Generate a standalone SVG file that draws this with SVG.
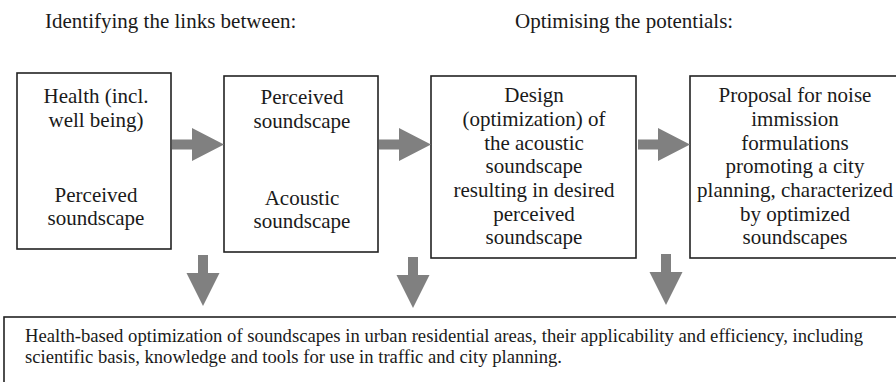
<svg xmlns="http://www.w3.org/2000/svg" width="896" height="382" viewBox="0 0 896 382">
  <style>
    .box { fill: #fff; stroke: #222; stroke-width: 1.6; }
    .t { font-family: 'Liberation Serif', 'DejaVu Serif', serif; font-size: 21px; fill: #1a1a1a; }
    .c { text-anchor: middle; }
    .b { font-family: 'Liberation Serif', 'DejaVu Serif', serif; font-size: 18px; fill: #1a1a1a; }
    .arrow { fill: #808080; }
  </style>
  <defs>
    <!-- block arrow pointing right, tip at origin -->
    <polygon id="arrow-right" class="arrow" points="-52,-5 -32,-5 -32,-16.5 0,0 -32,16.5 -32,5 -52,5"/>
    <!-- block arrow pointing down, tip at origin -->
    <polygon id="arrow-down" class="arrow" points="-5,-51 5,-51 5,-33 16.5,-33 0,0 -16.5,-33 -5,-33"/>
  </defs>
  <rect width="896" height="382" fill="#fff"/>

  <g id="headings">
    <text class="t" x="45" y="28">Identifying the links between:</text>
    <text class="t" x="515" y="28">Optimising the potentials:</text>
  </g>

  <g id="node-health">
    <rect class="box" x="17" y="73" width="154" height="176"/>
    <text class="t c" x="96" y="103">Health (incl.</text>
    <text class="t c" x="96" y="127">well being)</text>
    <text class="t c" x="96" y="202">Perceived</text>
    <text class="t c" x="96" y="225">soundscape</text>
  </g>

  <g id="node-soundscape">
    <rect class="box" x="224" y="76" width="154" height="176"/>
    <text class="t c" x="302" y="104">Perceived</text>
    <text class="t c" x="302" y="128">soundscape</text>
    <text class="t c" x="302" y="205">Acoustic</text>
    <text class="t c" x="302" y="228">soundscape</text>
  </g>

  <g id="node-design">
    <rect class="box" x="431" y="76" width="205" height="182"/>
    <text class="t c" x="534" y="102">Design</text>
    <text class="t c" x="534" y="126">(optimization) of</text>
    <text class="t c" x="534" y="150">the acoustic</text>
    <text class="t c" x="534" y="173">soundscape</text>
    <text class="t c" x="534" y="197">resulting in desired</text>
    <text class="t c" x="534" y="221">perceived</text>
    <text class="t c" x="534" y="244">soundscape</text>
  </g>

  <g id="node-proposal">
    <rect class="box" x="690" y="76" width="230" height="182"/>
    <text class="t c" x="795" y="102">Proposal for noise</text>
    <text class="t c" x="795" y="126">immission</text>
    <text class="t c" x="795" y="150">formulations</text>
    <text class="t c" x="795" y="173">promoting a city</text>
    <text class="t c" x="795" y="197">planning, characterized</text>
    <text class="t c" x="795" y="221">by optimized</text>
    <text class="t c" x="795" y="244">soundscapes</text>
  </g>

  <g id="node-outcome">
    <rect class="box" x="4" y="317" width="910" height="90"/>
    <text class="b" x="25" y="342" textLength="838" lengthAdjust="spacingAndGlyphs">Health-based optimization of soundscapes in urban residential areas, their applicability and efficiency, including</text>
    <text class="b" x="25" y="363" textLength="537" lengthAdjust="spacingAndGlyphs">scientific basis, knowledge and tools for use in traffic and city planning.</text>
  </g>

  <g id="connectors">
    <use href="#arrow-right" x="224" y="144.5"/>
    <use href="#arrow-right" x="431" y="144.5"/>
    <use href="#arrow-right" x="690" y="144.5"/>
    <use href="#arrow-down" x="203" y="306"/>
    <use href="#arrow-down" x="413" y="308"/>
    <use href="#arrow-down" x="666" y="305"/>
  </g>
</svg>
